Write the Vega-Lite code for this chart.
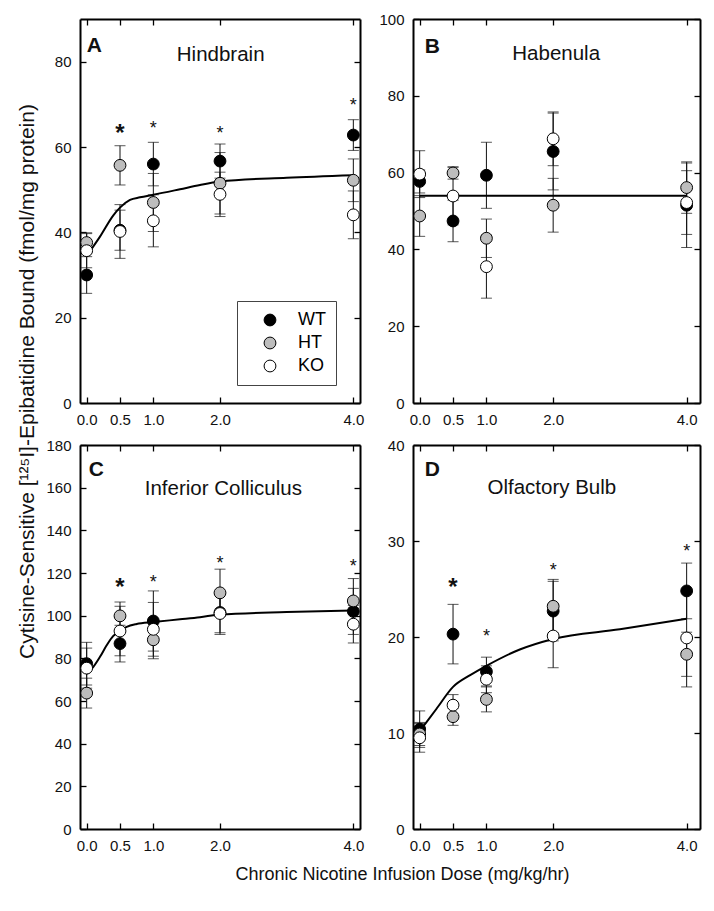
{
  "$schema": "https://vega.github.io/schema/vega-lite/v6.json",
  "padding": {"left": 16, "top": 12, "right": 5, "bottom": 5},
  "background": "white",
  "config": {
    "font": "Liberation Sans",
    "view": {"stroke": null},
    "axis": {
      "domainColor": "black", "domainWidth": 2,
      "tickColor": "black", "tickWidth": 1.3, "tickSize": -6,
      "grid": false, "labelFont": "Liberation Sans", "labelFontSize": 15,
      "labelColor": "#111", "labelPadding": 15, "labelFlush": false, "labelOverlap": false,
      "titleFont": "Liberation Sans", "titleFontWeight": "normal", "titleColor": "#111"
    },
    "text": {"font": "Liberation Sans", "color": "#111"}
  },
  "datasets": {
    "pts": [
      {"panel":"A","dose":0,"group":"WT","mean":30.0,"sem":4.3},
      {"panel":"A","dose":0,"group":"HT","mean":37.6,"sem":2.3},
      {"panel":"A","dose":0,"group":"KO","mean":35.7,"sem":4.0},
      {"panel":"A","dose":0.5,"group":"WT","mean":40.5,"sem":4.7},
      {"panel":"A","dose":0.5,"group":"HT","mean":55.7,"sem":4.6},
      {"panel":"A","dose":0.5,"group":"KO","mean":40.2,"sem":6.3},
      {"panel":"A","dose":1,"group":"WT","mean":56.0,"sem":5.1},
      {"panel":"A","dose":1,"group":"HT","mean":47.0,"sem":6.8},
      {"panel":"A","dose":1,"group":"KO","mean":42.7,"sem":6.1},
      {"panel":"A","dose":2,"group":"WT","mean":56.7,"sem":4.0},
      {"panel":"A","dose":2,"group":"HT","mean":51.5,"sem":7.2},
      {"panel":"A","dose":2,"group":"KO","mean":48.9,"sem":5.2},
      {"panel":"A","dose":4,"group":"WT","mean":62.8,"sem":3.6},
      {"panel":"A","dose":4,"group":"HT","mean":52.2,"sem":5.0},
      {"panel":"A","dose":4,"group":"KO","mean":44.1,"sem":5.6},

      {"panel":"B","dose":0,"group":"WT","mean":57.7,"sem":3.0},
      {"panel":"B","dose":0,"group":"HT","mean":48.7,"sem":5.3},
      {"panel":"B","dose":0,"group":"KO","mean":59.6,"sem":6.1},
      {"panel":"B","dose":0.5,"group":"WT","mean":47.4,"sem":5.4},
      {"panel":"B","dose":0.5,"group":"HT","mean":59.9,"sem":1.6},
      {"panel":"B","dose":0.5,"group":"KO","mean":53.9,"sem":7.5},
      {"panel":"B","dose":1,"group":"WT","mean":59.3,"sem":8.6},
      {"panel":"B","dose":1,"group":"HT","mean":42.9,"sem":5.0},
      {"panel":"B","dose":1,"group":"KO","mean":35.5,"sem":8.2},
      {"panel":"B","dose":2,"group":"WT","mean":65.5,"sem":10.0},
      {"panel":"B","dose":2,"group":"HT","mean":51.5,"sem":7.0},
      {"panel":"B","dose":2,"group":"KO","mean":68.8,"sem":7.0},
      {"panel":"B","dose":4,"group":"WT","mean":51.5,"sem":11.0},
      {"panel":"B","dose":4,"group":"HT","mean":56.1,"sem":6.7},
      {"panel":"B","dose":4,"group":"KO","mean":52.2,"sem":8.3},

      {"panel":"C","dose":0,"group":"WT","mean":77.5,"sem":10.0},
      {"panel":"C","dose":0,"group":"HT","mean":63.7,"sem":7.0},
      {"panel":"C","dose":0,"group":"KO","mean":75.4,"sem":9.4},
      {"panel":"C","dose":0.5,"group":"WT","mean":86.9,"sem":8.6},
      {"panel":"C","dose":0.5,"group":"HT","mean":99.9,"sem":6.5},
      {"panel":"C","dose":0.5,"group":"KO","mean":92.8,"sem":11.6},
      {"panel":"C","dose":1,"group":"WT","mean":97.5,"sem":14.1},
      {"panel":"C","dose":1,"group":"HT","mean":88.7,"sem":8.9},
      {"panel":"C","dose":1,"group":"KO","mean":93.6,"sem":12.6},
      {"panel":"C","dose":2,"group":"WT","mean":101.5,"sem":9.5},
      {"panel":"C","dose":2,"group":"HT","mean":110.7,"sem":11.1},
      {"panel":"C","dose":2,"group":"KO","mean":101.0,"sem":9.8},
      {"panel":"C","dose":4,"group":"WT","mean":102.0,"sem":10.8},
      {"panel":"C","dose":4,"group":"HT","mean":106.9,"sem":10.5},
      {"panel":"C","dose":4,"group":"KO","mean":96.0,"sem":8.8},

      {"panel":"D","dose":0,"group":"WT","mean":10.4,"sem":1.9},
      {"panel":"D","dose":0,"group":"HT","mean":9.9,"sem":1.2},
      {"panel":"D","dose":0,"group":"KO","mean":9.5,"sem":1.5},
      {"panel":"D","dose":0.5,"group":"WT","mean":20.3,"sem":3.1},
      {"panel":"D","dose":0.5,"group":"HT","mean":11.7,"sem":0.9},
      {"panel":"D","dose":0.5,"group":"KO","mean":12.9,"sem":1.1},
      {"panel":"D","dose":1,"group":"WT","mean":16.4,"sem":1.5},
      {"panel":"D","dose":1,"group":"HT","mean":13.5,"sem":1.3},
      {"panel":"D","dose":1,"group":"KO","mean":15.6,"sem":1.4},
      {"panel":"D","dose":2,"group":"WT","mean":22.7,"sem":3.1},
      {"panel":"D","dose":2,"group":"HT","mean":23.2,"sem":2.8},
      {"panel":"D","dose":2,"group":"KO","mean":20.1,"sem":3.3},
      {"panel":"D","dose":4,"group":"WT","mean":24.8,"sem":2.9},
      {"panel":"D","dose":4,"group":"HT","mean":18.2,"sem":2.3},
      {"panel":"D","dose":4,"group":"KO","mean":19.9,"sem":5.1}
    ],
    "fit": [
      {"panel":"A","dose":0,"fit":34.5},{"panel":"A","dose":0.2,"fit":39.0},{"panel":"A","dose":0.4,"fit":44.0},
      {"panel":"A","dose":0.5,"fit":45.8},{"panel":"A","dose":0.65,"fit":47.6},{"panel":"A","dose":0.8,"fit":48.2},
      {"panel":"A","dose":1.0,"fit":48.8},{"panel":"A","dose":1.4,"fit":50.1},{"panel":"A","dose":1.7,"fit":51.1},
      {"panel":"A","dose":2.0,"fit":51.9},{"panel":"A","dose":3.0,"fit":52.8},{"panel":"A","dose":4.0,"fit":53.4},
      {"panel":"B","dose":0,"fit":54.0},{"panel":"B","dose":4,"fit":54.0},
      {"panel":"C","dose":0,"fit":72.8},{"panel":"C","dose":0.1,"fit":76.0},{"panel":"C","dose":0.2,"fit":80.7},
      {"panel":"C","dose":0.3,"fit":86.1},{"panel":"C","dose":0.4,"fit":90.5},{"panel":"C","dose":0.5,"fit":92.8},
      {"panel":"C","dose":0.6,"fit":94.7},{"panel":"C","dose":0.75,"fit":96.1},{"panel":"C","dose":1.0,"fit":97.0},
      {"panel":"C","dose":1.4,"fit":98.3},{"panel":"C","dose":1.7,"fit":99.3},{"panel":"C","dose":2.0,"fit":100.5},
      {"panel":"C","dose":3.0,"fit":101.7},{"panel":"C","dose":4.0,"fit":102.4},
      {"panel":"D","dose":0,"fit":10.2},{"panel":"D","dose":0.25,"fit":12.5},{"panel":"D","dose":0.5,"fit":14.8},
      {"panel":"D","dose":0.75,"fit":16.0},{"panel":"D","dose":1.0,"fit":17.0},{"panel":"D","dose":1.5,"fit":18.7},
      {"panel":"D","dose":2.0,"fit":19.8},{"panel":"D","dose":3.0,"fit":20.8},{"panel":"D","dose":4.0,"fit":21.9}
    ],
    "stars": [
      {"panel":"A","dose":0.5,"y":64.8},{"panel":"A","dose":1,"y":65.4},{"panel":"A","dose":2,"y":64.2},{"panel":"A","dose":4,"y":70.8},
      {"panel":"C","dose":0.5,"y":116.4},{"panel":"C","dose":1,"y":117.7},{"panel":"C","dose":2,"y":126.6},{"panel":"C","dose":4,"y":125.3},
      {"panel":"D","dose":0.5,"y":25.8},{"panel":"D","dose":1,"y":20.5},{"panel":"D","dose":2,"y":27.4},{"panel":"D","dose":4,"y":29.4}
    ],
    "one": [{}]
  },
  "bounds": "flush",
  "columns": 2,
  "spacing": {"row": 42, "column": 53},
  "resolve": {"scale": {"fill": "independent"}, "legend": {"fill": "independent"}},
  "concat": [
    {
      "width": 280, "height": 384,
      "resolve": {"axis": {"x": "independent", "y": "independent"}},
      "layer": [
        {"data":{"name":"pts"},"transform":[{"filter":"datum.panel==='A'"}],
         "mark":{"type":"errorbar","ticks":true,"size":11,"thickness":1,"color":"#111"},
         "encoding":{
           "x":{"field":"dose","type":"quantitative","scale":{"domain":[-0.1,4.1],"nice":false,"zero":false},"axis":{"orient":"bottom","values":[0,0.5,1,2,4],"format":".1f","title":null}},
           "y":{"field":"mean","type":"quantitative","scale":{"domain":[0,90],"nice":false,"zero":false},"axis":{"orient":"left","values":[0,20,40,60,80],"title":"Cytisine-Sensitive [¹²⁵I]-Epibatidine Bound (fmol/mg protein)","titleX":-53,"titleY":362,"titleFontSize":21,"titleBaseline":"middle","titleAlign":"center","titleAngle":-90}},
           "yError":{"field":"sem"}}},
        {"data":{"name":"fit"},"transform":[{"filter":"datum.panel==='A'"}],
         "mark":{"type":"line","color":"black","strokeWidth":2,"interpolate":"monotone"},
         "encoding":{
           "x":{"field":"dose","type":"quantitative","scale":{"domain":[-0.1,4.1],"nice":false,"zero":false},"axis":{"orient":"top","values":[0,0.5,1,2,4],"labels":false,"title":null}},
           "y":{"field":"fit","type":"quantitative","scale":{"domain":[0,90],"nice":false,"zero":false},"axis":{"orient":"right","values":[0,20,40,60,80],"labels":false,"title":null}}}},
        {"data":{"name":"pts"},"transform":[{"filter":"datum.panel==='A'"}],
         "mark":{"type":"point","shape":"circle","filled":true,"size":140,"stroke":"black","strokeWidth":1,"opacity":1},
         "encoding":{
           "x":{"field":"dose","type":"quantitative","scale":{"domain":[-0.1,4.1],"nice":false,"zero":false},"axis":null},
           "y":{"field":"mean","type":"quantitative","scale":{"domain":[0,90],"nice":false,"zero":false},"axis":null},
           "fill":{"field":"group","type":"nominal","sort":null,"scale":{"domain":["WT","HT","KO"],"range":["#000000","#bdbdbd","#ffffff"]},
             "legend":{"orient":"none","legendX":157,"legendY":282,"title":null,"strokeColor":"#444","fillColor":"white","padding":10,"symbolType":"circle","symbolSize":140,"symbolStrokeColor":"black","symbolStrokeWidth":1,"labelFontSize":18,"labelFont":"Liberation Sans","labelColor":"black","symbolOffset":14,"labelOffset":19,"rowPadding":5}}}},
        {"data":{"name":"stars"},"transform":[{"filter":"datum.panel==='A' && datum.dose !== 0.5"}],
         "mark":{"type":"text","text":"*","fontSize":18,"baseline":"middle","dy":5},
         "encoding":{
           "x":{"field":"dose","type":"quantitative","scale":{"domain":[-0.1,4.1],"nice":false,"zero":false},"axis":null},
           "y":{"field":"y","type":"quantitative","scale":{"domain":[0,90],"nice":false,"zero":false},"axis":null}}},
        {"data":{"name":"stars"},"transform":[{"filter":"datum.panel==='A' && datum.dose === 0.5"}],
         "mark":{"type":"text","text":"*","fontSize":24,"fontWeight":"bold","baseline":"middle","dy":7},
         "encoding":{
           "x":{"field":"dose","type":"quantitative","scale":{"domain":[-0.1,4.1],"nice":false,"zero":false},"axis":null},
           "y":{"field":"y","type":"quantitative","scale":{"domain":[0,90],"nice":false,"zero":false},"axis":null}}},
        {"data":{"name":"one"},
         "mark":{"type":"text","text":"A","fontSize":21,"fontWeight":"bold","align":"left","baseline":"alphabetic"},
         "encoding":{"x":{"datum":0,"type":"quantitative","axis":null},"y":{"datum":82.3,"type":"quantitative","axis":null}}},
        {"data":{"name":"one"},
         "mark":{"type":"text","text":"Hindbrain","fontSize":20.5,"align":"center","baseline":"alphabetic"},
         "encoding":{"x":{"datum":2.01,"type":"quantitative","axis":null},"y":{"datum":80.1,"type":"quantitative","axis":null}}}
      ]
    },
    {
      "width": 287, "height": 384,
      "resolve": {"axis": {"x": "independent", "y": "independent"}},
      "layer": [
        {"data":{"name":"pts"},"transform":[{"filter":"datum.panel==='B'"}],
         "mark":{"type":"errorbar","ticks":true,"size":11,"thickness":1,"color":"#111"},
         "encoding":{
           "x":{"field":"dose","type":"quantitative","scale":{"domain":[-0.1,4.2],"nice":false,"zero":false},"axis":{"orient":"bottom","values":[0,0.5,1,2,4],"format":".1f","title":null}},
           "y":{"field":"mean","type":"quantitative","scale":{"domain":[0,100],"nice":false,"zero":false},"axis":{"orient":"left","values":[0,20,40,60,80,100],"title":null}},
           "yError":{"field":"sem"}}},
        {"data":{"name":"fit"},"transform":[{"filter":"datum.panel==='B'"}],
         "mark":{"type":"line","color":"black","strokeWidth":2},
         "encoding":{
           "x":{"field":"dose","type":"quantitative","scale":{"domain":[-0.1,4.2],"nice":false,"zero":false},"axis":{"orient":"top","values":[0,0.5,1,2,4],"labels":false,"title":null}},
           "y":{"field":"fit","type":"quantitative","scale":{"domain":[0,100],"nice":false,"zero":false},"axis":{"orient":"right","values":[0,20,40,60,80,100],"labels":false,"title":null}}}},
        {"data":{"name":"pts"},"transform":[{"filter":"datum.panel==='B'"}],
         "mark":{"type":"point","shape":"circle","filled":true,"size":140,"stroke":"black","strokeWidth":1,"opacity":1},
         "encoding":{
           "x":{"field":"dose","type":"quantitative","scale":{"domain":[-0.1,4.2],"nice":false,"zero":false},"axis":null},
           "y":{"field":"mean","type":"quantitative","scale":{"domain":[0,100],"nice":false,"zero":false},"axis":null},
           "fill":{"field":"group","type":"nominal","sort":null,"scale":{"domain":["WT","HT","KO"],"range":["#000000","#bdbdbd","#ffffff"]},"legend":null}}},
        {"data":{"name":"one"},
         "mark":{"type":"text","text":"B","fontSize":21,"fontWeight":"bold","align":"left","baseline":"alphabetic"},
         "encoding":{"x":{"datum":0.075,"type":"quantitative","axis":null},"y":{"datum":91.1,"type":"quantitative","axis":null}}},
        {"data":{"name":"one"},
         "mark":{"type":"text","text":"Habenula","fontSize":20.5,"align":"center","baseline":"alphabetic"},
         "encoding":{"x":{"datum":2.045,"type":"quantitative","axis":null},"y":{"datum":89.4,"type":"quantitative","axis":null}}}
      ]
    },
    {
      "width": 280, "height": 384,
      "resolve": {"axis": {"x": "independent", "y": "independent"}},
      "layer": [
        {"data":{"name":"pts"},"transform":[{"filter":"datum.panel==='C'"}],
         "mark":{"type":"errorbar","ticks":true,"size":11,"thickness":1,"color":"#111"},
         "encoding":{
           "x":{"field":"dose","type":"quantitative","scale":{"domain":[-0.1,4.1],"nice":false,"zero":false},"axis":{"orient":"bottom","values":[0,0.5,1,2,4],"format":".1f","title":"Chronic Nicotine Infusion Dose (mg/kg/hr)","titleX":322,"titleY":45,"titleFontSize":18,"titleBaseline":"middle","titleAlign":"center"}},
           "y":{"field":"mean","type":"quantitative","scale":{"domain":[0,180],"nice":false,"zero":false},"axis":{"orient":"left","values":[0,20,40,60,80,100,120,140,160,180],"title":null}},
           "yError":{"field":"sem"}}},
        {"data":{"name":"fit"},"transform":[{"filter":"datum.panel==='C'"}],
         "mark":{"type":"line","color":"black","strokeWidth":2,"interpolate":"monotone"},
         "encoding":{
           "x":{"field":"dose","type":"quantitative","scale":{"domain":[-0.1,4.1],"nice":false,"zero":false},"axis":{"orient":"top","values":[0,0.5,1,2,4],"labels":false,"title":null}},
           "y":{"field":"fit","type":"quantitative","scale":{"domain":[0,180],"nice":false,"zero":false},"axis":{"orient":"right","values":[0,20,40,60,80,100,120,140,160,180],"labels":false,"title":null}}}},
        {"data":{"name":"pts"},"transform":[{"filter":"datum.panel==='C'"}],
         "mark":{"type":"point","shape":"circle","filled":true,"size":140,"stroke":"black","strokeWidth":1,"opacity":1},
         "encoding":{
           "x":{"field":"dose","type":"quantitative","scale":{"domain":[-0.1,4.1],"nice":false,"zero":false},"axis":null},
           "y":{"field":"mean","type":"quantitative","scale":{"domain":[0,180],"nice":false,"zero":false},"axis":null},
           "fill":{"field":"group","type":"nominal","sort":null,"scale":{"domain":["WT","HT","KO"],"range":["#000000","#bdbdbd","#ffffff"]},"legend":null}}},
        {"data":{"name":"stars"},"transform":[{"filter":"datum.panel==='C' && datum.dose !== 0.5"}],
         "mark":{"type":"text","text":"*","fontSize":18,"baseline":"middle","dy":5},
         "encoding":{
           "x":{"field":"dose","type":"quantitative","scale":{"domain":[-0.1,4.1],"nice":false,"zero":false},"axis":null},
           "y":{"field":"y","type":"quantitative","scale":{"domain":[0,180],"nice":false,"zero":false},"axis":null}}},
        {"data":{"name":"stars"},"transform":[{"filter":"datum.panel==='C' && datum.dose === 0.5"}],
         "mark":{"type":"text","text":"*","fontSize":24,"fontWeight":"bold","baseline":"middle","dy":7},
         "encoding":{
           "x":{"field":"dose","type":"quantitative","scale":{"domain":[-0.1,4.1],"nice":false,"zero":false},"axis":null},
           "y":{"field":"y","type":"quantitative","scale":{"domain":[0,180],"nice":false,"zero":false},"axis":null}}},
        {"data":{"name":"one"},
         "mark":{"type":"text","text":"C","fontSize":21,"fontWeight":"bold","align":"left","baseline":"alphabetic"},
         "encoding":{"x":{"datum":0.03,"type":"quantitative","axis":null},"y":{"datum":165.5,"type":"quantitative","axis":null}}},
        {"data":{"name":"one"},
         "mark":{"type":"text","text":"Inferior Colliculus","fontSize":20.5,"align":"center","baseline":"alphabetic"},
         "encoding":{"x":{"datum":2.05,"type":"quantitative","axis":null},"y":{"datum":156.6,"type":"quantitative","axis":null}}}
      ]
    },
    {
      "width": 287, "height": 384,
      "resolve": {"axis": {"x": "independent", "y": "independent"}},
      "layer": [
        {"data":{"name":"pts"},"transform":[{"filter":"datum.panel==='D'"}],
         "mark":{"type":"errorbar","ticks":true,"size":11,"thickness":1,"color":"#111"},
         "encoding":{
           "x":{"field":"dose","type":"quantitative","scale":{"domain":[-0.1,4.2],"nice":false,"zero":false},"axis":{"orient":"bottom","values":[0,0.5,1,2,4],"format":".1f","title":null}},
           "y":{"field":"mean","type":"quantitative","scale":{"domain":[0,40],"nice":false,"zero":false},"axis":{"orient":"left","values":[0,10,20,30,40],"title":null}},
           "yError":{"field":"sem"}}},
        {"data":{"name":"fit"},"transform":[{"filter":"datum.panel==='D'"}],
         "mark":{"type":"line","color":"black","strokeWidth":2,"interpolate":"monotone"},
         "encoding":{
           "x":{"field":"dose","type":"quantitative","scale":{"domain":[-0.1,4.2],"nice":false,"zero":false},"axis":{"orient":"top","values":[0,0.5,1,2,4],"labels":false,"title":null}},
           "y":{"field":"fit","type":"quantitative","scale":{"domain":[0,40],"nice":false,"zero":false},"axis":{"orient":"right","values":[0,10,20,30,40],"labels":false,"title":null}}}},
        {"data":{"name":"pts"},"transform":[{"filter":"datum.panel==='D'"}],
         "mark":{"type":"point","shape":"circle","filled":true,"size":140,"stroke":"black","strokeWidth":1,"opacity":1},
         "encoding":{
           "x":{"field":"dose","type":"quantitative","scale":{"domain":[-0.1,4.2],"nice":false,"zero":false},"axis":null},
           "y":{"field":"mean","type":"quantitative","scale":{"domain":[0,40],"nice":false,"zero":false},"axis":null},
           "fill":{"field":"group","type":"nominal","sort":null,"scale":{"domain":["WT","HT","KO"],"range":["#000000","#bdbdbd","#ffffff"]},"legend":null}}},
        {"data":{"name":"stars"},"transform":[{"filter":"datum.panel==='D' && datum.dose !== 0.5"}],
         "mark":{"type":"text","text":"*","fontSize":18,"baseline":"middle","dy":5},
         "encoding":{
           "x":{"field":"dose","type":"quantitative","scale":{"domain":[-0.1,4.2],"nice":false,"zero":false},"axis":null},
           "y":{"field":"y","type":"quantitative","scale":{"domain":[0,40],"nice":false,"zero":false},"axis":null}}},
        {"data":{"name":"stars"},"transform":[{"filter":"datum.panel==='D' && datum.dose === 0.5"}],
         "mark":{"type":"text","text":"*","fontSize":24,"fontWeight":"bold","baseline":"middle","dy":7},
         "encoding":{
           "x":{"field":"dose","type":"quantitative","scale":{"domain":[-0.1,4.2],"nice":false,"zero":false},"axis":null},
           "y":{"field":"y","type":"quantitative","scale":{"domain":[0,40],"nice":false,"zero":false},"axis":null}}},
        {"data":{"name":"one"},
         "mark":{"type":"text","text":"D","fontSize":21,"fontWeight":"bold","align":"left","baseline":"alphabetic"},
         "encoding":{"x":{"datum":0.075,"type":"quantitative","axis":null},"y":{"datum":36.8,"type":"quantitative","axis":null}}},
        {"data":{"name":"one"},
         "mark":{"type":"text","text":"Olfactory Bulb","fontSize":20.5,"align":"center","baseline":"alphabetic"},
         "encoding":{"x":{"datum":1.98,"type":"quantitative","axis":null},"y":{"datum":34.9,"type":"quantitative","axis":null}}}
      ]
    }
  ]
}
